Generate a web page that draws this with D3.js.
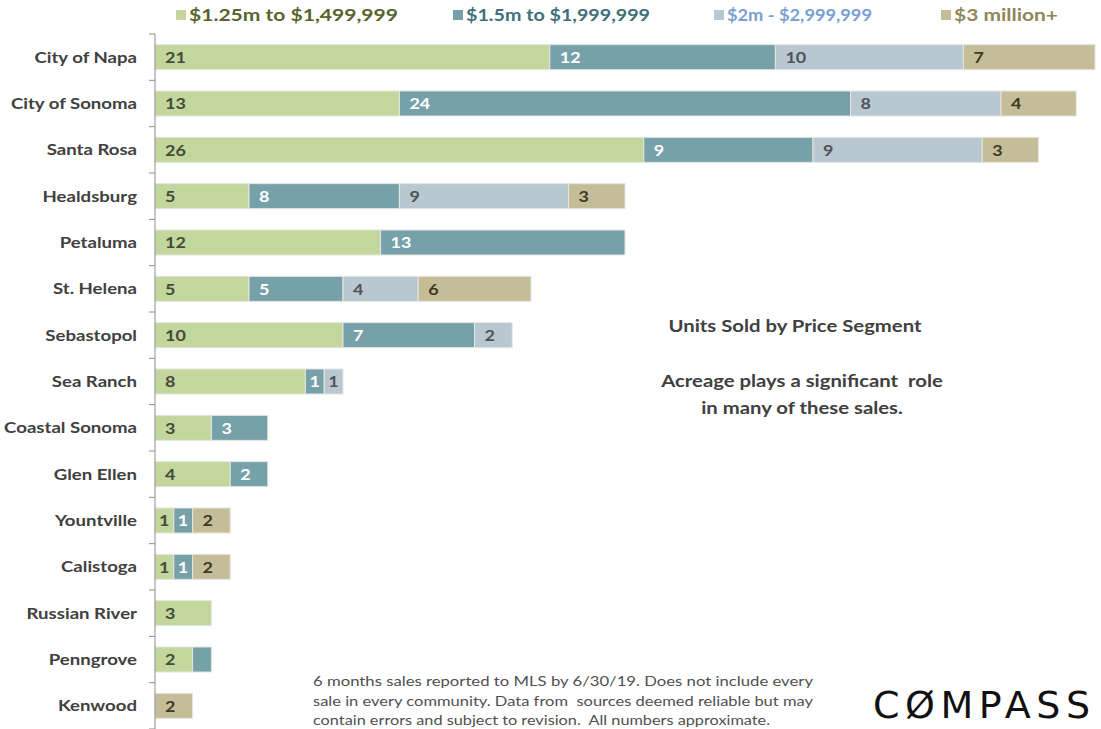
<!DOCTYPE html>
<html>
<head>
<meta charset="utf-8">
<script src="https://cdn.jsdelivr.net/npm/d3@7"></script>
<style>
  html, body { margin: 0; padding: 0; background: #fff; }
  svg { display: block; }
  text { white-space: pre; }
</style>
</head>
<body>
<svg id="chart" width="1101" height="729"></svg>
<script>
// Communities, top to bottom
const communities = ["City of Napa", "City of Sonoma", "Santa Rosa", "Healdsburg", "Petaluma",
  "St. Helena", "Sebastopol", "Sea Ranch", "Coastal Sonoma", "Glen Ellen", "Yountville",
  "Calistoga", "Russian River", "Penngrove", "Kenwood"];

// Units sold in each price segment
const seg125 = [21, 13, 26, 5, 12, 5, 10, 8, 3, 4, 1, 1, 3, 2, 0];
const seg150 = [12, 24, 9, 8, 13, 5, 7, 1, 3, 2, 1, 1, 0, 1, 0];
const seg200 = [10, 8, 9, 9, 0, 4, 2, 1, 0, 0, 0, 0, 0, 0, 0];
const seg300 = [7, 4, 3, 3, 0, 6, 0, 0, 0, 0, 2, 2, 0, 0, 2];

// Penngrove's single $1.5m sale is drawn without a number
const hideLabel = [{ s: 1, i: 13 }];

const segmentNames = ["$1.25m to $1,499,999", "$1.5m to $1,999,999", "$2m - $2,999,999", "$3 million+"];
const segmentValues = [seg125, seg150, seg200, seg300];

const fills = ["#c3d69b", "#77a1a9", "#b8c7d0", "#c5bd98"];
const labelColors = ["#454a3c", "#ffffff", "#4f5458", "#3e3a22"];
const legendColors = ["#56652c", "#3f6f79", "#7aa0d2", "#8f875a"];

const svg = d3.select("#chart");
const font = "Lato, 'Open Sans', sans-serif";
const SX = 1.2; // horizontal stretch of the type

const x = d3.scaleLinear().domain([0, 50]).range([155, 1095]);
const y = d3.scaleBand().domain(communities).range([34, 729]).paddingInner(0.46).paddingOuter(0.23);

// Stack the segments
const rows = communities.map((c, i) => {
  const r = { name: c };
  segmentValues.forEach((arr, s) => r["s" + s] = arr[i]);
  return r;
});
const stack = d3.stack().keys(["s0", "s1", "s2", "s3"]);
const series = stack(rows);

const barG = svg.append("g");
series.forEach((ser, s) => {
  const g = barG.append("g");
  ser.forEach((d, i) => {
    const v = d[1] - d[0];
    if (v <= 0) return;
    g.append("rect")
      .attr("x", x(d[0]))
      .attr("y", y(communities[i]))
      .attr("width", x(d[1]) - x(d[0]))
      .attr("height", y.bandwidth())
      .attr("fill", fills[s])
      .attr("stroke", "#e4e7e2")
      .attr("stroke-width", 1);
    if (hideLabel.some(h => h.s === s && h.i === i)) return;
    g.append("text")
      .attr("transform", `translate(${x(d[0]) + (v === 1 ? 4 : 10)},${y(communities[i]) + y.bandwidth() / 2}) scale(1.12,1)`)
      .attr("dy", "0.36em")
      .attr("font-family", font)
      .attr("font-weight", 700)
      .attr("font-size", 16)
      .attr("fill", labelColors[s])
      .text(v);
  });
});

// Category axis
const axis = svg.append("g").attr("transform", `translate(${x(0)},0)`);
axis.append("line")
  .attr("x1", 0).attr("x2", 0)
  .attr("y1", 34).attr("y2", 729)
  .attr("stroke", "#8c8c8c").attr("stroke-width", 1);
const boundaries = d3.range(communities.length + 1).map(k => 34 + k * y.step());
axis.selectAll("line.tick").data(boundaries).enter().append("line")
  .attr("class", "tick")
  .attr("x1", -6).attr("x2", 0)
  .attr("y1", d => d).attr("y2", d => d)
  .attr("stroke", "#8c8c8c");
svg.append("g").selectAll("text").data(communities).enter().append("text")
  .attr("transform", d => `translate(137,${y(d) + y.bandwidth() / 2}) scale(${SX},1)`)
  .attr("dy", "0.36em")
  .attr("text-anchor", "end")
  .attr("font-family", font)
  .attr("font-weight", 700)
  .attr("font-size", 15.5)
  .attr("fill", "#404040")
  .text(d => d);

// Legend
const legendX = [176, 453, 714, 941];
const legendW = [209, 184, 145, 104];
const legend = svg.append("g");
segmentNames.forEach((n, s) => {
  legend.append("rect")
    .attr("x", legendX[s]).attr("y", 10)
    .attr("width", 10).attr("height", 10)
    .attr("fill", fills[s]);
  legend.append("text")
    .attr("x", legendX[s] + 13).attr("y", 15)
    .attr("dy", "0.36em")
    .attr("font-family", font)
    .attr("font-weight", 700)
    .attr("font-size", 17.5)
    .attr("textLength", legendW[s])
    .attr("lengthAdjust", "spacingAndGlyphs")
    .attr("fill", legendColors[s])
    .text(n);
});

// Notes
const notes = [
  { t: "Units Sold by Price Segment", x: 795, y: 332 },
  { t: "Acreage plays a significant  role", x: 802, y: 387 },
  { t: "in many of these sales.", x: 802, y: 414 }
];
svg.append("g").selectAll("text").data(notes).enter().append("text")
  .attr("transform", d => `translate(${d.x},${d.y}) scale(1.16,1)`)
  .attr("text-anchor", "middle")
  .attr("font-family", font)
  .attr("font-weight", 700)
  .attr("font-size", 17.5)
  .attr("fill", "#404040")
  .text(d => d.t);

const foot = ["6 months sales reported to MLS by 6/30/19. Does not include every",
  "sale in every community. Data from  sources deemed reliable but may",
  "contain errors and subject to revision.  All numbers approximate."];
const footW = [500, 500, 457];
svg.append("g").selectAll("text").data(foot).enter().append("text")
  .attr("x", 313)
  .attr("y", (d, i) => 686 + i * 19.5)
  .attr("font-family", font)
  .attr("font-size", 14)
  .attr("textLength", (d, i) => footW[i])
  .attr("lengthAdjust", "spacingAndGlyphs")
  .attr("fill", "#505050")
  .text(d => d);

// Brand mark
svg.append("text")
  .attr("x", 873).attr("y", 718)
  .attr("font-family", "'DejaVu Sans', sans-serif")
  .attr("font-size", 38)
  .attr("textLength", 217)
  .attr("lengthAdjust", "spacing")
  .attr("fill", "#111")
  .text("CØMPASS");
</script>
</body>
</html>
